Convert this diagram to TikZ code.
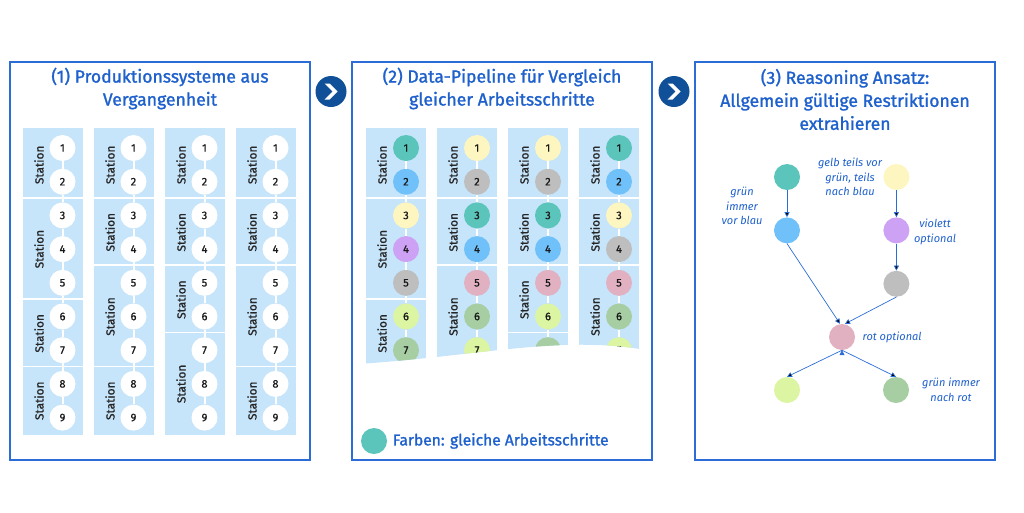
\documentclass[tikz,border=0pt]{standalone}
\usepackage{fontspec}
\setmainfont{Fira Sans}
\newfontfamily\titlefont{Fira Sans}[FakeBold=1.4]
\newfontfamily\labelfont{Fira Sans}[FakeBold=0.9]
\usetikzlibrary{positioning,arrows.meta}

\definecolor{panelblue}{RGB}{44,108,214}
\definecolor{titleblue}{RGB}{30,96,204}
\definecolor{boxblue}{RGB}{198,228,250}
\definecolor{chevronblue}{RGB}{16,80,152}
\definecolor{stteal}{RGB}{92,197,187}
\definecolor{stblue}{RGB}{112,193,250}
\definecolor{styellow}{RGB}{253,246,193}
\definecolor{stviolet}{RGB}{205,162,245}
\definecolor{stgray}{RGB}{190,190,190}
\definecolor{stlime}{RGB}{220,245,162}
\definecolor{stgreen}{RGB}{166,206,162}
\definecolor{stpink}{RGB}{225,177,194}

\tikzset{
  panel/.style={draw=panelblue, line width=1.8pt},
  paneltitle/.style={text=titleblue, align=center, font=\titlefont\fontsize{17.6}{23}\selectfont},
  stationbox/.style={fill=boxblue},
  stationlabel/.style={rotate=90, text=black!85, font=\labelfont\fontsize{11.8}{12}\selectfont},
  workstep/.style={circle, fill=white, minimum size=26pt, inner sep=0pt, text=black!90, font=\labelfont\fontsize{11}{11}\selectfont},
  link/.style={white, line width=2pt},
  nextmark/.style={circle, fill=chevronblue, minimum size=31pt, inner sep=0pt},
  rulestep/.style={circle, minimum size=26pt, inner sep=0pt},
  rule/.style={draw=panelblue, line width=0.7pt, -{Triangle[length=5pt,width=5pt]}},
  note/.style={text=titleblue, align=center, font=\fontsize{11}{14.5}\selectfont\itshape},
  legendtext/.style={text=titleblue, font=\titlefont\fontsize{15.6}{20}\selectfont}
}

\begin{document}
\begin{tikzpicture}[x=1pt, y=-1pt]
\useasboundingbox (0,0) rectangle (1024,512);

% panels
\draw[panel] (10,62) rectangle (310,460);
\draw[panel] (352,62) rectangle (652,460);
\draw[panel] (695,62) rectangle (995,460);

\node[paneltitle] (title1) at (160,88.5) {(1) Produktionssysteme aus\\Vergangenheit};
\node[paneltitle] (title2) at (502,88.5) {(2) Data-Pipeline für Vergleich\\gleicher Arbeitsschritte};
\node[paneltitle] (title3) at (845,99.5) {(3) Reasoning Ansatz:\\Allgemein gültige Restriktionen\\extrahieren};

% chevrons between panels
\foreach \cx [count=\n] in {331,674} {
  \node[nextmark] (next\n) at (\cx,91.5) {};
  \fill[white] ([shift={(-6.5,-8)}]next\n.center) -- ++(5,0) -- ++(8,8)
    -- ++(-8,8) -- ++(-5,0) -- ++(8,-8) -- cycle;
}

% (1) production systems
\foreach \x/\groups [count=\c] in {23/{1/2,3/5,6/7,8/9}, 94/{1/2,3/4,5/7,8/9},
                                   165/{1/2,3/4,5/6,7/9}, 236/{1/2,3/4,5/7,8/9}} {
  \foreach \s/\e in \groups {
    \pgfmathsetmacro\ytop{\s==1 ? 128 : 148+33.7*(\s-1)-16.8}
    \pgfmathsetmacro\ybot{\e==9 ? 435 : 148+33.7*\e-18.4}
    \pgfmathsetmacro\ymid{148+33.7*((\s+\e)/2-1)}
    \fill[stationbox] (\x,\ytop) rectangle (\x+60,\ybot);
    \node[stationlabel] at (\x+16,\ymid) {Station};
  }
  \foreach \k in {1,...,9}
    \node[workstep] (a\c-\k) at (\x+39.5,{148+33.7*(\k-1)}) {\k};
  \foreach \k [evaluate=\k as \n using int(\k+1)] in {1,...,8}
    \draw[link] (a\c-\k) -- (a\c-\n);
}

% (2) data pipeline, cut off at the bottom
\begin{scope}
\clip (358,120) -- (646,120) -- (646,350) .. controls (560,335) and (480,356) .. (358,364) -- cycle;
\foreach \x/\groups/\colours [count=\c] in {
    366/{1/2,3/5,6/7}/{stteal,stblue,styellow,stviolet,stgray,stlime,stgreen},
    437/{1/2,3/4,5/7}/{styellow,stgray,stteal,stblue,stpink,stgreen,stlime},
    508/{1/2,3/4,5/6,7/9}/{styellow,stgray,stteal,stblue,stpink,stlime,stgreen},
    579/{1/2,3/4,5/7}/{stteal,stblue,styellow,stgray,stpink,stgreen,stlime}} {
  \foreach \s/\e in \groups {
    \pgfmathsetmacro\ytop{\s==1 ? 128 : 148+33.7*(\s-1)-16.8}
    \pgfmathsetmacro\ybot{\e==9 ? 435 : 148+33.7*\e-18.4}
    \pgfmathsetmacro\ymid{148+33.7*((\s+\e)/2-1)}
    \fill[stationbox] (\x,\ytop) rectangle (\x+60,\ybot);
    \node[stationlabel] at (\x+16,\ymid) {Station};
  }
  \foreach \clr [count=\k] in \colours
    \node[workstep, fill=\clr] (b\c-\k) at (\x+40,{148+33.7*(\k-1)}) {\k};
  \foreach \k [evaluate=\k as \n using int(\k+1)] in {1,...,6}
    \draw[link] (b\c-\k) -- (b\c-\n);
}
\end{scope}

\node[workstep, fill=stteal] (legend) at (374,441) {};
\node[legendtext, right=2pt of legend] (legendlabel) {Farben: gleiche Arbeitsschritte};

% (3) reasoning
\node[rulestep, fill=stteal] (teal) at (787,177) {};
\node[rulestep, fill=stblue] (blue) [below=27pt of teal] {};
\node[rulestep, fill=styellow] (yellow) [right=83pt of teal] {};
\node[rulestep, fill=stviolet] (violet) [below=27pt of yellow] {};
\node[rulestep, fill=stgray] (gray) [below=27pt of violet] {};
\node[rulestep, fill=stpink] (pink) at (842,337) {};
\node[rulestep, fill=stlime] (lime) at (787,390) {};
\node[rulestep, fill=stgreen] (green) at (896,390) {};

\node[note] (noteblue) at (742,206) {grün\\immer\\vor blau};
\node[note] (noteyellow) at (850,177) {gelb teils vor\\grün, teils\\nach blau};
\node[note] (noteviolet) at (935,232) {violett\\optional};
\node[note, right=4pt of pink] (notepink) {rot optional};
\node[note] (notegreen) at (951,390) {grün immer\\nach rot};

\path[rule]
(teal) edge (blue)
(yellow) edge (violet)
(violet) edge (gray)
(blue.south) edge ([xshift=-2pt]pink.north)
(gray.south) edge ([xshift=3pt]pink.north)
(pink.south) edge (lime.north)
(pink.south) edge (green.north);
\end{tikzpicture}
\end{document}
